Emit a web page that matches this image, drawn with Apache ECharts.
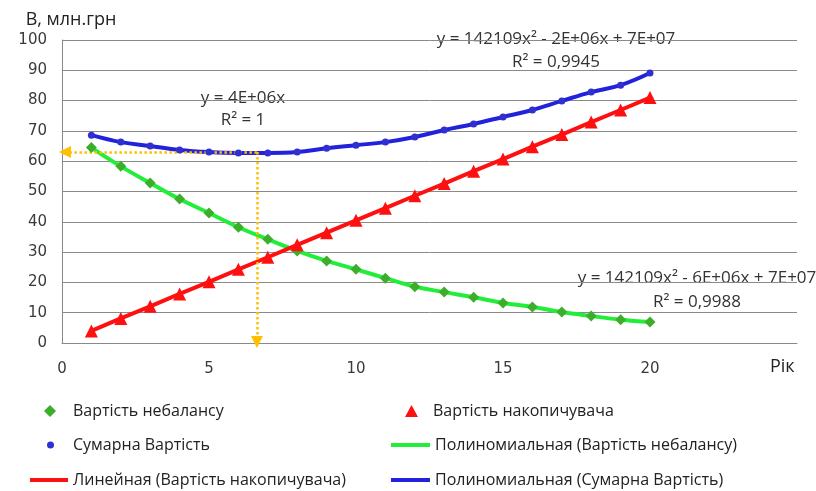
<!DOCTYPE html>
<html>
<head>
<meta charset="utf-8">
<script src="https://cdn.jsdelivr.net/npm/echarts@6/dist/echarts.min.js"></script>
<style>html,body{margin:0;padding:0;background:#fff}#c{width:816px;height:491px}</style>
</head>
<body>
<div id="c"></div>
<script>
// ---- data ----
var years = [1,2,3,4,5,6,7,8,9,10,11,12,13,14,15,16,17,18,19,20];
var imbalanceCost = [64.5,58.3,52.8,47.5,42.9,38.2,34.2,30.4,27.1,24.3,21.4,18.6,16.8,15.1,13.2,11.9,10.2,8.9,7.7,6.9];
var storageCost = [4.0,8.1,12.1,16.2,20.2,24.3,28.3,32.4,36.4,40.5,44.5,48.6,52.6,56.7,60.7,64.8,68.8,72.9,76.9,81.0];
var totalCost = [68.6,66.3,65.0,63.7,63.0,62.7,62.7,63.0,64.3,65.3,66.3,68.0,70.3,72.3,74.6,76.9,79.9,82.8,85.1,89.1];
var xTicks = [0,5,10,15,20];
var optimumPoint = [6.63, 63.0];
var arrowEnds = [0.1, 0.3];

var names = {
  imb: 'Вартість небалансу',
  sto: 'Вартість накопичувача',
  tot: 'Сумарна Вартість',
  imbTrend: 'Полиномиальная (Вартість небалансу)',
  stoTrend: 'Линейная (Вартість накопичувача)',
  totTrend: 'Полиномиальная (Сумарна Вартість)'
};
var equations = [
  {lines:['y = 4E+06x','R² = 1'], x:243, y:[98,120]},
  {lines:['y = 142109x² - 2E+06x + 7E+07','R² = 0,9945'], x:556, y:[39,62]},
  {lines:['y = 142109x² - 6E+06x + 7E+07','R² = 0,9988'], x:697, y:[278,302]}
];

function pairs(vals){ return years.map(function(x,i){ return [x, vals[i]]; }); }

var cGreenLine = '#22EE3A', cGreenMark = '#3DAE2B';
var cRed = '#FF1010', cBlue = '#2222DD', cBlueMark = '#3030D0';
var axisGray = '#8a8a8a';
var labelFont = {fontFamily:'DejaVu Sans', fontSize:15, color:'#3a3a3a'};

function legendItem(name, icon, color, left, top, w, h, textShift){
  return {
    data:[{name:name, icon:icon, itemStyle:{color:color, borderWidth:0}}],
    left:left, top:top, itemWidth:w, itemHeight:h,
    selectedMode:false, padding:0,
    textStyle:{fontFamily:'Open Sans', fontSize:16, color:'#222', lineHeight:20,
      padding:[0,0,0,textShift || 0]}
  };
}

var graphics = [];
equations.forEach(function(e){
  e.lines.forEach(function(t, k){
    graphics.push({type:'text', x:e.x, y:e.y[k], silent:true,
      style:{text:t, x:0, y:0, align:'center', verticalAlign:'middle',
        font:'17px "Open Sans"', fill:'#333'}});
  });
});
graphics.push({type:'text', x:770, y:367, silent:true,
  style:{text:'Рік', x:0, y:0, align:'left', verticalAlign:'middle', font:'18px "Open Sans"', fill:'#222'}});

var chart = echarts.init(document.getElementById('c'), null, {renderer:'canvas'});
chart.setOption({
  animation:false,
  backgroundColor:'#fff',
  grid:{left:62, right:19, top:40, bottom:148, containLabel:false},
  xAxis:{
    type:'value', min:0, max:25, interval:5,
    axisLine:{show:true, lineStyle:{color:axisGray, width:1}},
    axisTick:{show:false},
    splitLine:{show:false},
    axisLabel:Object.assign({margin:19, formatter:function(v){ return xTicks.indexOf(v) >= 0 ? String(v) : ''; }}, labelFont)
  },
  yAxis:{
    type:'value', min:0, max:100, interval:10,
    name:'В, млн.грн', nameLocation:'end', nameGap:20,
    nameTextStyle:{fontFamily:'Open Sans', fontSize:18, color:'#222', align:'center', verticalAlign:'middle', padding:[0,0,0,18]},
    axisLine:{show:true, lineStyle:{color:axisGray, width:1}},
    axisTick:{show:false},
    splitLine:{show:true, lineStyle:{color:axisGray, width:1}},
    axisLabel:Object.assign({margin:15}, labelFont)
  },
  legend:[
    legendItem(names.imb, 'diamond', cGreenMark, 44, 401, 12, 12, 12),
    legendItem(names.tot, 'circle', cBlueMark, 47, 435, 7, 7, 14),
    legendItem(names.stoTrend, 'rect', cRed, 30, 470, 38, 4, 0),
    legendItem(names.sto, 'triangle', cRed, 405, 401, 13, 12, 10),
    legendItem(names.imbTrend, 'rect', cGreenLine, 391, 435, 39, 4, 0),
    legendItem(names.totTrend, 'rect', cBlue, 391, 470, 39, 4, 0)
  ],
  graphic:graphics,
  series:[
    {name:names.imbTrend, type:'line', data:pairs(imbalanceCost), smooth:0.4, showSymbol:false,
      lineStyle:{color:cGreenLine, width:4}, itemStyle:{color:cGreenLine}, z:2, silent:true},
    {name:names.stoTrend, type:'line', data:pairs(storageCost), smooth:false, showSymbol:false,
      lineStyle:{color:cRed, width:4}, itemStyle:{color:cRed}, z:2, silent:true},
    {name:names.totTrend, type:'line', data:pairs(totalCost), smooth:0.4, showSymbol:false,
      lineStyle:{color:cBlue, width:4}, itemStyle:{color:cBlue}, z:2, silent:true,
      markLine:{silent:true, symbol:['none','triangle'], symbolSize:[12,12], label:{show:false},
        lineStyle:{color:'#FFC000', width:2.5, type:'dotted'},
        data:[
          [{coord:[optimumPoint[0], optimumPoint[1]]},{coord:[arrowEnds[0], optimumPoint[1]]}],
          [{coord:[optimumPoint[0], optimumPoint[1]]},{coord:[optimumPoint[0], arrowEnds[1]]}]
        ]}},
    {name:names.imb, type:'scatter', data:pairs(imbalanceCost), symbol:'diamond', symbolSize:11,
      itemStyle:{color:cGreenMark, opacity:1}, z:5},
    {name:names.sto, type:'scatter', data:pairs(storageCost), symbol:'triangle', symbolSize:13,
      itemStyle:{color:cRed, opacity:1}, z:5},
    {name:names.tot, type:'scatter', data:pairs(totalCost), symbol:'circle', symbolSize:7,
      itemStyle:{color:cBlueMark, opacity:1}, z:5}
  ]
});
</script>
</body>
</html>
